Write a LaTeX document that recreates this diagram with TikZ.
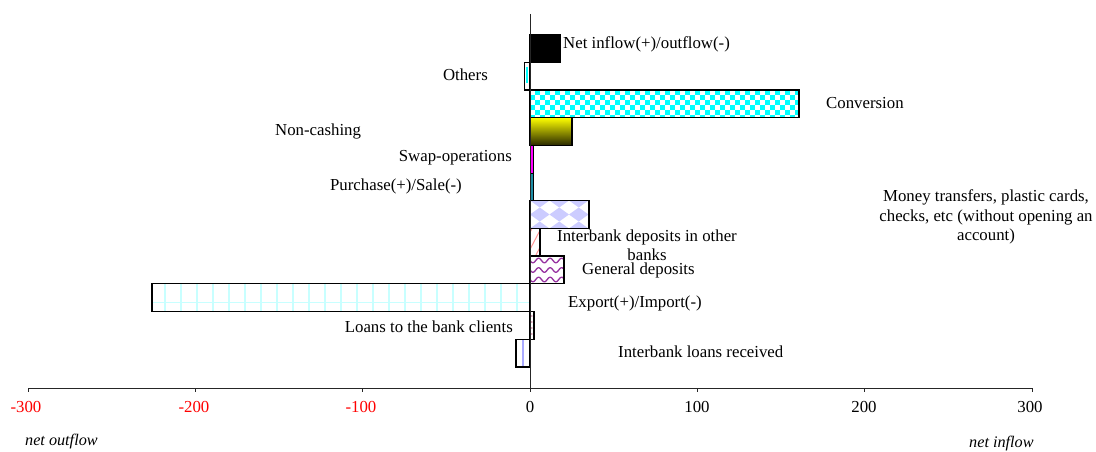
\documentclass[tikz,border=0pt]{standalone}
\usepackage{fontspec}
\setmainfont{Liberation Serif}
\definecolor{lav}{RGB}{204,204,255}
\definecolor{wavepurple}{RGB}{150,50,160}
\definecolor{gridcyan}{RGB}{200,255,255}
\definecolor{pinkline}{RGB}{255,150,150}
\definecolor{tealbar}{RGB}{30,140,165}
\definecolor{darkolive}{RGB}{40,40,0}
\definecolor{dotmaroon}{RGB}{180,80,120}
\definecolor{lineblue}{RGB}{170,170,255}
\definecolor{brcyan}{RGB}{0,255,255}
\definecolor{brmagenta}{RGB}{255,0,255}
\definecolor{bryellow}{RGB}{255,255,0}
\definecolor{brred}{RGB}{255,0,0}
\begin{document}
\begin{tikzpicture}[x=1pt,y=-1pt,
  bar/.style={draw=black,line width=1.3pt},
  thinbar/.style={draw=black,line width=0.8pt},
  axisline/.style={draw=black!85,line width=0.9pt},
  lbl/.style={inner sep=0pt,font=\fontsize{16.8}{19.5}\selectfont},
  ticklbl/.style={inner sep=0pt,font=\fontsize{16.8}{19.5}\selectfont},
  neg/.style={text=brred},
  side/.style={inner sep=0pt,font=\fontsize{16.2}{18}\selectfont\itshape}]
\path[use as bounding box] (0,0) rectangle (1096,452);

% ---- bar fills ----
% Net inflow/outflow
\fill[black] (530,34.5) rectangle (560,62.2);
% Others
\fill[white] (524.5,62.2) rectangle (530,89.9);
\draw[brcyan,line width=2pt] (527.3,67) -- (527.3,83);
% Conversion (checker)
\begin{scope}
\clip (530,89.9) rectangle (799,117.6);
\fill[brcyan] (530,89.9) rectangle (799,117.6);
\foreach \i in {0,...,54}{\foreach \j in {0,...,5}{
  \pgfmathtruncatemacro\kk{mod(\i+\j,2)}
  \ifnum\kk=0 \fill[white] ({530+5*\i},{89.9+5*\j}) rectangle ++(5,5);\fi}}
\end{scope}
% Non-cashing (gradient)
\shade[top color=bryellow,bottom color=darkolive] (530,117.6) rectangle (572,145.3);
% Swap-operations
\fill[brmagenta] (530,145.3) rectangle (533.5,173);
% Purchase/Sale
\fill[tealbar] (530,173) rectangle (533.5,200.7);
% Money transfers (diamonds)
\begin{scope}
\clip (530,200.7) rectangle (589,228.4);
\foreach \i in {-1,...,3}{\foreach \j in {-1,0,1}{
  \fill[lav] ({539.75+19.5*\i},{207.5+14*\j}) -- ++(9.75,7) -- ++(-9.75,7) -- ++(-9.75,-7) -- cycle;}}
\end{scope}
% Interbank deposits (diagonal lines)
\begin{scope}
\clip (530,228.4) rectangle (540,256.1);
\foreach \k in {-1,...,2}{
  \draw[pinkline,line width=1pt] (530,{228.4+17*\k+21}) -- (541,{228.4+17*\k});}
\end{scope}
% General deposits (waves)
\begin{scope}
\clip (530,256.1) rectangle (564,283.8);
\foreach \r in {260.5,270,279.5}{
  \draw[wavepurple,line width=1.3pt] plot[domain=528:566,samples=60,smooth] (\x,{\r+2.3*sin(360*(\x-530)/11.5)});}
\end{scope}
% Export/Import (grid)
\begin{scope}
\clip (152,283.8) rectangle (530,311.5);
\foreach \k in {0,...,22}{
  \draw[gridcyan,line width=1.5pt] ({165+16*\k},283.8) -- ({165+16*\k},311.5);}
\draw[gridcyan,line width=1.5pt] (152,302.3) -- (530,302.3);
\end{scope}
% Loans to the bank clients (dots)
\foreach \d in {316,322,328,334}{
  \fill[dotmaroon] (531.8,\d) circle (0.8);}
% Interbank loans received
\draw[lineblue,line width=2pt] (523.3,339.2) -- (523.3,366.9);

% ---- bar borders ----
\draw[bar] (530,34.5) rectangle (560,62.2);
\draw[bar] (524.5,62.2) rectangle (530,89.9);
\draw[bar] (530,89.9) rectangle (799,117.6);
\draw[bar] (530,117.6) rectangle (572,145.3);
\draw[thinbar] (530,145.3) rectangle (533.5,173);
\draw[thinbar] (530,173) rectangle (533.5,200.7);
\draw[bar] (530,200.7) rectangle (589,228.4);
\draw[bar] (530,228.4) rectangle (540,256.1);
\draw[bar] (530,256.1) rectangle (564,283.8);
\draw[bar] (152,283.8) rectangle (530,311.5);
\draw[bar] (530,311.5) rectangle (534,339.2);
\draw[bar] (516,339.2) rectangle (530,366.9);

% ---- axes ----
\coordinate (ytop) at (530,14);
\coordinate (ybot) at (530,388.3);
\coordinate (xl) at (28,388.3);
\coordinate (xr) at (1032,388.3);
\draw[axisline] (ytop) -- (ybot);
\draw[axisline] (xl) -- (xr);
\foreach \v/\n in {-300/m3,-200/m2,-100/m1,0/z,100/p1,200/p2,300/p3}{
  \coordinate (t\n) at ({530+1.67333*\v},388.3);
  \draw[axisline] (t\n) -- ++(0,4);}
\node[ticklbl,neg] (lm3) at (26,407) {-300};
\node[ticklbl,neg] (lm2) at (194,407) {-200};
\node[ticklbl,neg] (lm1) at (361,407) {-100};
\node[ticklbl] (lz) at (530,407) {0};
\node[ticklbl] (lp1) at (697,407) {100};
\node[ticklbl] (lp2) at (864,407) {200};
\node[ticklbl] (lp3) at (1030,407) {300};
\node[side,anchor=west] (outf) at (25,442) {net outflow};
\node[side,anchor=west] (inf) at (969,444) {net inflow};

% ---- labels ----
\node[lbl,anchor=west] (Lnet) at (563,44) {Net inflow(+)/outflow(-)};
\node[lbl,anchor=east] (Loth) at (488,75) {Others};
\node[lbl,anchor=west] (Lconv) at (826,103) {Conversion};
\node[lbl,anchor=west] (Lnonc) at (275,131) {Non-cashing};
\node[lbl,anchor=east] (Lswap) at (512,158) {Swap-operations};
\node[lbl,anchor=east] (Lpur) at (462,186) {Purchase(+)/Sale(-)};
\node[lbl,align=center] (Lmon) at (986,217) {Money transfers, plastic cards,\\checks, etc (without opening an\\account)};
\node[lbl,align=center] (Libd) at (647,245.5) {Interbank deposits in other\\banks};
\node[lbl,anchor=west] (Lgen) at (582,270) {General deposits};
\node[lbl,anchor=west] (Lexp) at (568,303) {Export(+)/Import(-)};
\node[lbl,anchor=east] (Lloan) at (513,327) {Loans to the bank clients};
\node[lbl,anchor=west] (Libl) at (618,352) {Interbank loans received};
\end{tikzpicture}
\end{document}
